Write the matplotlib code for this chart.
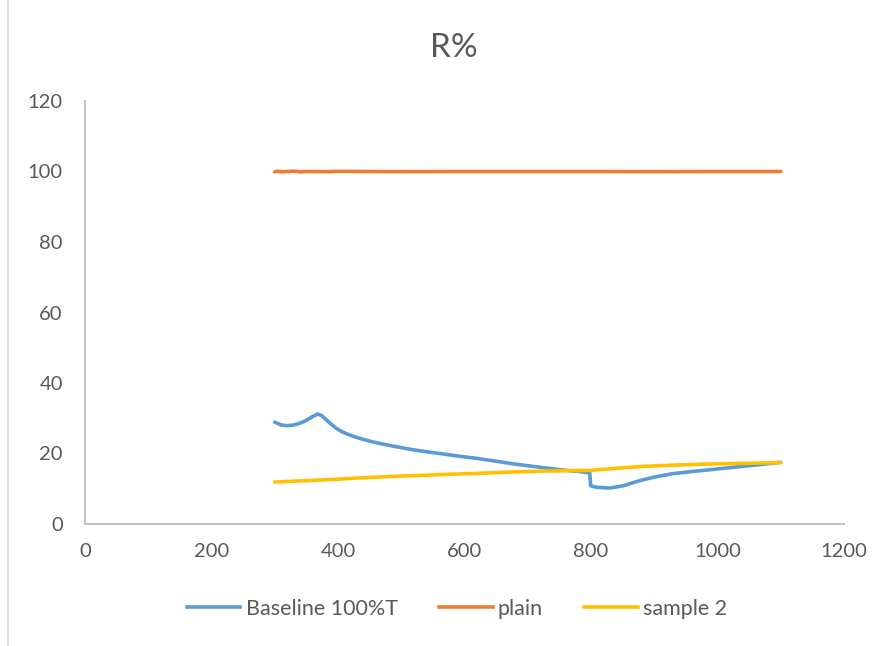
import numpy as np
import matplotlib.pyplot as plt
from matplotlib.lines import Line2D

# Espectros de reflectancia (nm, R%)
baseline_nm = [300, 310, 320, 330, 340, 350, 360, 368, 374, 380, 388, 396, 405, 415, 427,
               440, 455, 470, 490, 514, 540, 565, 593, 620, 650, 680, 719, 751, 780, 798,
               799.5, 810, 830, 850, 877, 900, 930, 960, 983, 1010, 1036, 1070, 1100]
baseline_r = [28.9, 28.1, 27.9, 28.1, 28.6, 29.4, 30.5, 31.2, 30.8, 29.8, 28.5, 27.3, 26.3,
              25.5, 24.7, 24.0, 23.3, 22.7, 22.0, 21.2, 20.5, 19.9, 19.2, 18.6, 17.8, 17.0,
              16.1, 15.4, 14.9, 14.5, 10.8, 10.4, 10.2, 10.8, 12.3, 13.3, 14.3, 14.9, 15.3,
              15.8, 16.3, 16.9, 17.5]

plain_nm = [300, 305, 310, 320, 330, 340, 350, 360, 380, 400, 450, 500, 600, 700, 800, 900, 1000, 1100]
plain_r = [99.9, 100.1, 99.9, 100.0, 100.1, 99.9, 100.0, 100.0, 99.95, 100.05, 100.0, 99.95,
           100.0, 100.0, 100.0, 99.95, 100.0, 100.0]

sample_nm = [300, 350, 400, 435, 500, 593, 640, 700, 751, 798, 840, 877, 930, 983, 1040, 1100]
sample_r = [11.9, 12.3, 12.7, 13.1, 13.6, 14.2, 14.5, 14.9, 15.1, 15.2, 15.8, 16.3, 16.7,
            17.0, 17.2, 17.4]

series = [("Baseline 100%T", baseline_nm, baseline_r, "#5B9BD5"),
          ("plain", plain_nm, plain_r, "#ED7D31"),
          ("sample 2", sample_nm, sample_r, "#FFC000")]

texto = "#595959"
eje = "#BFBFBF"
plt.rcParams['font.family'] = ['Lato', 'DejaVu Sans']

fig = plt.figure(figsize=(8.86, 6.46), dpi=100)
ax = fig.add_axes([85 / 886, 122 / 646, 759 / 886, 423 / 646])

for nombre, x, y, color in series:
    ax.plot(x, y, color=color, lw=2.6, label=nombre, solid_capstyle='round',
            solid_joinstyle='round')

ax.set_xlim(0, 1200)
ax.set_ylim(0, 120)
ax.set_xticks(np.arange(0, 1201, 200))
ax.set_yticks(np.arange(0, 121, 20))

for lado in ['top', 'right']:
    ax.spines[lado].set_visible(False)
for lado in ['left', 'bottom']:
    ax.spines[lado].set_color(eje)
    ax.spines[lado].set_linewidth(1.3)

ax.tick_params(axis='both', length=0, labelsize=14.5, labelcolor=texto)
ax.tick_params(axis='y', pad=16)
ax.tick_params(axis='x', pad=14)

fig.text(454 / 886, 1 - 48 / 646, "R%", ha='center', va='center', fontsize=24, color=texto)

handles = [Line2D([0], [0], color=c, lw=2.6) for _, _, _, c in series]
fig.legend(handles, [s[0] for s in series], loc='center', bbox_to_anchor=(457 / 886, 1 - 609 / 646),
           ncol=3, frameon=False, fontsize=15.5, labelcolor=texto, handlelength=2.5,
           handletextpad=0.25, columnspacing=1.9)

# borde izquierdo del área del gráfico
fig.add_artist(Line2D([8 / 886, 8 / 886], [0, 1], color="#D9D9D9", lw=1.2, transform=fig.transFigure))

fig.savefig("out.png", dpi=100)
